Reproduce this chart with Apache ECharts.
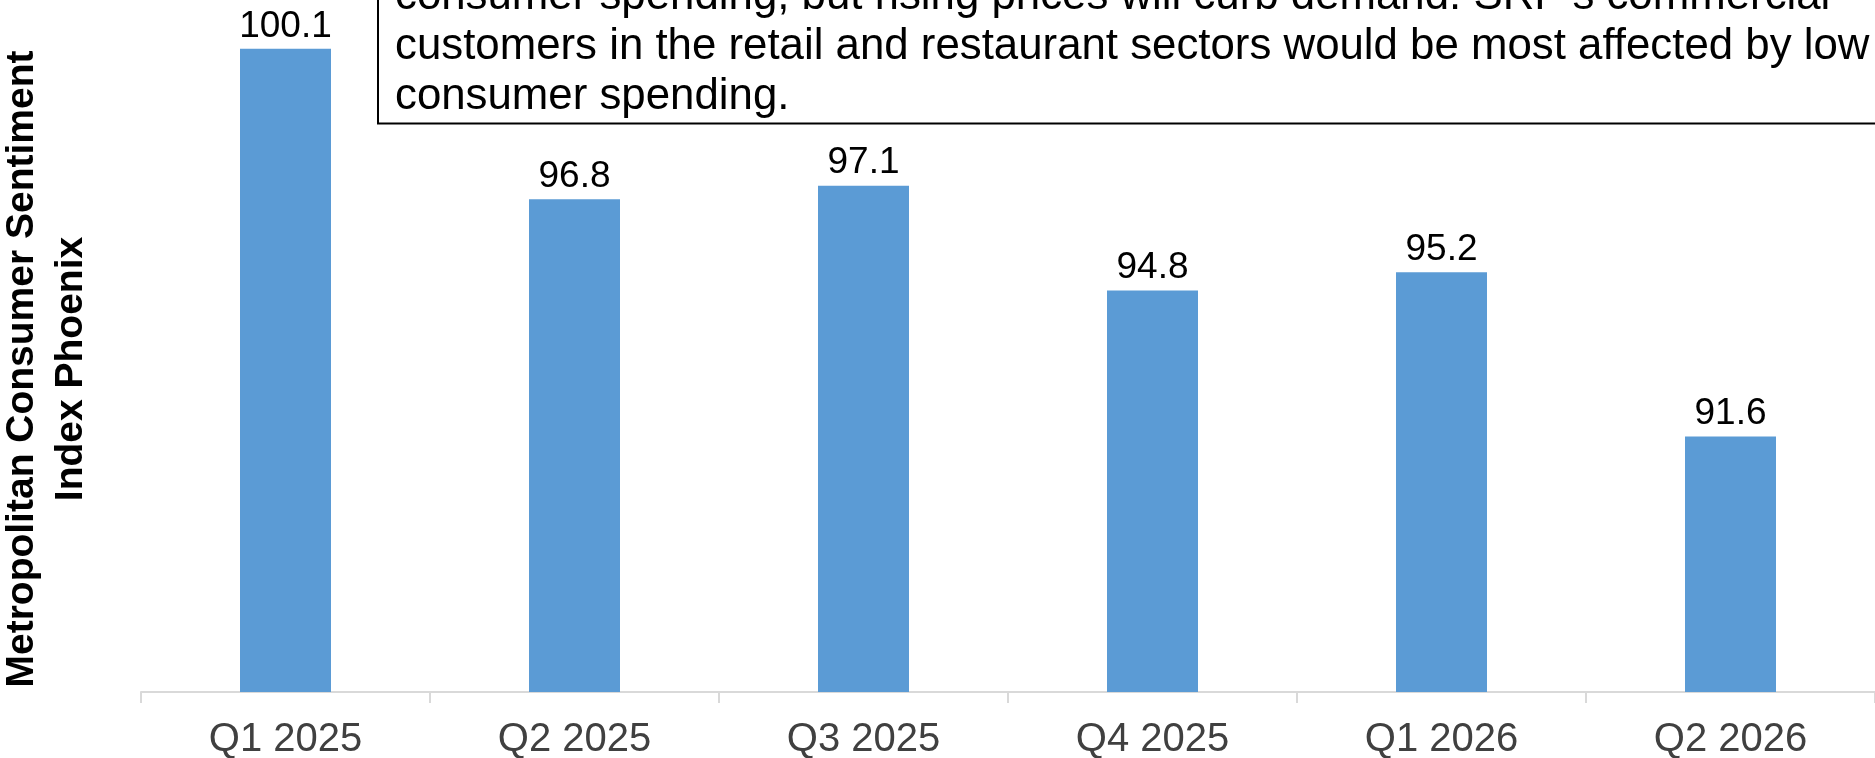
<!DOCTYPE html>
<html>
<head>
<meta charset="utf-8">
<script src="https://cdn.jsdelivr.net/npm/echarts@6/dist/echarts.min.js"></script>
<style>
  html, body { margin: 0; padding: 0; background: #ffffff; }
  #chart { width: 1875px; height: 758px; }
</style>
</head>
<body>
<div id="chart"></div>
<script>
// Quarterly values of the Phoenix consumer sentiment index
const quarters = ['Q1 2025', 'Q2 2025', 'Q3 2025', 'Q4 2025', 'Q1 2026', 'Q2 2026'];
const sentiment = [100.1, 96.8, 97.1, 94.8, 95.2, 91.6];

const axisTitleLines = ['Metropolitan Consumer Sentiment', 'Index Phoenix'];
const noteLines = [
  "consumer spending, but rising prices will curb demand. SRP\u2019s commercial",
  'customers in the retail and restaurant sectors would be most affected by low',
  'consumer spending.'
];

const FONT = '"Liberation Sans", Arial, Helvetica, sans-serif';

const chart = echarts.init(document.getElementById('chart'), null, { renderer: 'canvas' });

chart.setOption({
  animation: false,
  backgroundColor: '#ffffff',
  grid: {
    left: 141, right: 0, top: 0, bottom: 66,
    containLabel: false,
    outerBoundsMode: 'none'
  },
  xAxis: {
    type: 'category',
    data: quarters,
    boundaryGap: true,
    axisLine: { show: true, lineStyle: { color: '#d9d9d9', width: 2 } },
    axisTick: { show: true, length: 11, lineStyle: { color: '#d9d9d9', width: 2 } },
    axisLabel: { color: '#404040', fontFamily: FONT, fontSize: 40, margin: 28 }
  },
  yAxis: {
    type: 'value',
    min: 86,
    max: 101.17,
    show: false,
    splitLine: { show: false }
  },
  series: [{
    type: 'bar',
    data: sentiment,
    barWidth: 91,
    itemStyle: { color: '#5b9bd5' },
    label: {
      show: true,
      position: 'top',
      distance: 4,
      color: '#000000',
      fontFamily: FONT,
      fontSize: 37,
      formatter: p => p.value.toFixed(1)
    }
  }],
  graphic: [
    {
      type: 'rect',
      shape: { x: 378, y: -120, width: 1600, height: 243.5 },
      style: { fill: '#ffffff', stroke: '#000000', lineWidth: 2 },
      z: 10
    },
    {
      type: 'text',
      x: 395,
      y: -28,
      style: {
        text: noteLines.join('\n'),
        font: '43.8px ' + FONT,
        fill: '#000000',
        lineHeight: 50,
        align: 'left',
        verticalAlign: 'top'
      },
      z: 11
    },
    {
      type: 'text',
      x: 47,
      y: 369,
      rotation: Math.PI / 2,
      style: {
        text: axisTitleLines.join('\n'),
        font: 'bold 39px ' + FONT,
        fill: '#000000',
        lineHeight: 49,
        align: 'center',
        verticalAlign: 'middle'
      },
      z: 11
    }
  ]
});
</script>
</body>
</html>
